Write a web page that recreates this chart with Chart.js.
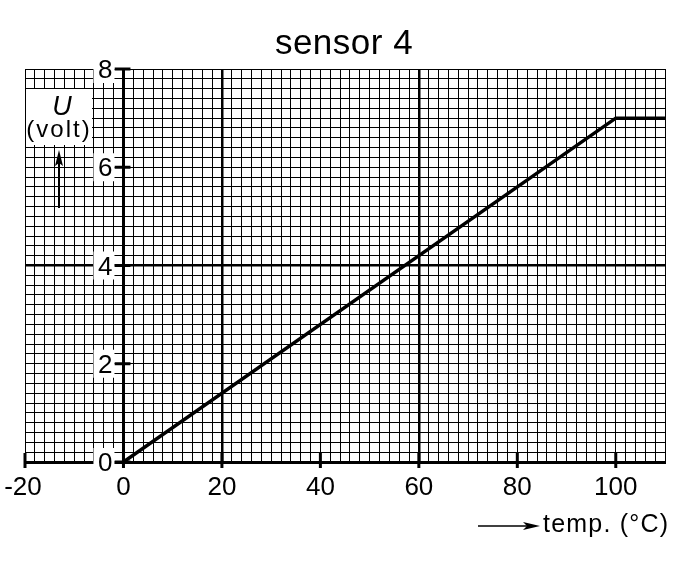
<!DOCTYPE html>
<html>
<head>
<meta charset="utf-8">
<title>sensor 4</title>
<script src="https://cdn.jsdelivr.net/npm/chart.js@4/dist/chart.umd.min.js"></script>
<style>
  html, body { margin: 0; padding: 0; background: #fff; }
  #wrap { width: 697px; height: 568px; }
</style>
</head>
<body>
<div id="wrap"><canvas id="sensorChart" width="697" height="568"></canvas></div>
<script>
// sensor response: U (volt) against temp (°C)
const tempValues = [0, 100, 110];
const voltValues = [0, 7, 7];

const xTickLabels = [-20, 0, 20, 40, 60, 80, 100];
const yTickLabels = [0, 2, 4, 6, 8];

const chartTitle = "sensor 4";
const yName = "U";
const yUnit = "(volt)";
const xName = "temp. (\u00B0C)";

const FONT = '"Liberation Sans", Arial, Helvetica, sans-serif';

function near(v, list) {
  return list.some(t => Math.abs(v - t) < 1e-6);
}

// labels, tick marks and arrows drawn on top of the grid paper
const paperLabels = {
  id: 'paperLabels',
  afterDraw(chart) {
    const { ctx, chartArea } = chart;
    const xs = chart.scales.x;
    const ys = chart.scales.y;
    const x0 = xs.getPixelForValue(0);
    const yBase = ys.getPixelForValue(0);

    ctx.save();
    ctx.fillStyle = '#000';
    ctx.strokeStyle = '#000';

    // title
    ctx.font = '35px ' + FONT;
    ctx.letterSpacing = '0.5px';
    ctx.textAlign = 'center';
    ctx.textBaseline = 'alphabetic';
    ctx.fillText(chartTitle, (chartArea.left + chartArea.right) / 2 - 1, 54);

    // x tick marks + labels
    ctx.letterSpacing = '0px';
    ctx.lineWidth = 3;
    ctx.font = '26px ' + FONT;
    xTickLabels.forEach(v => {
      const px = xs.getPixelForValue(v);
      ctx.beginPath();
      ctx.moveTo(px, yBase - 9);
      ctx.lineTo(px, yBase + 6);
      ctx.stroke();
      ctx.fillText(String(v), v < 0 ? px - 2 : px, yBase + 33);
    });

    // y tick marks + labels on white boxes
    ctx.textAlign = 'right';
    yTickLabels.forEach(v => {
      const py = ys.getPixelForValue(v);
      ctx.beginPath();
      ctx.moveTo(x0 - 9, py);
      ctx.lineTo(x0 + 7, py);
      ctx.stroke();
      ctx.fillStyle = '#fff';
      ctx.fillRect(x0 - 30, py - 14, 21, 28);
      ctx.fillStyle = '#000';
      ctx.fillText(String(v), x0 - 11, py + 9);
    });

    // y name box
    ctx.fillStyle = '#fff';
    ctx.fillRect(chartArea.left + 1, 89, 66, 56);
    ctx.fillStyle = '#000';
    ctx.textAlign = 'center';
    ctx.font = 'italic 27px ' + FONT;
    ctx.fillText(yName, 62, 115);
    ctx.font = '24px ' + FONT;
    ctx.letterSpacing = '2px';
    ctx.fillText(yUnit, 59, 137);

    // up arrow
    ctx.lineWidth = 2;
    ctx.beginPath();
    ctx.moveTo(59, 208);
    ctx.lineTo(59, 160);
    ctx.stroke();
    ctx.beginPath();
    ctx.moveTo(59, 150);
    ctx.lineTo(55, 166);
    ctx.lineTo(59, 163);
    ctx.lineTo(63, 166);
    ctx.closePath();
    ctx.fill();

    // x name with right arrow
    ctx.lineWidth = 1.5;
    ctx.beginPath();
    ctx.moveTo(478, 526);
    ctx.lineTo(530, 526);
    ctx.stroke();
    ctx.beginPath();
    ctx.moveTo(540, 526);
    ctx.lineTo(523, 522);
    ctx.lineTo(527, 526);
    ctx.lineTo(523, 530);
    ctx.closePath();
    ctx.fill();
    ctx.textAlign = 'left';
    ctx.font = '25px ' + FONT;
    ctx.letterSpacing = '1.2px';
    ctx.fillText(xName, 543, 532);

    ctx.letterSpacing = '0px';
    ctx.restore();
  }
};

const chart = new Chart(document.getElementById('sensorChart'), {
  type: 'scatter',
  data: {
    datasets: [{
      label: 'U',
      data: tempValues.map((t, i) => ({ x: t, y: voltValues[i] })),
      showLine: true,
      borderColor: '#000',
      borderWidth: 3.5,
      pointRadius: 0,
      fill: false,
      tension: 0
    }]
  },
  options: {
    responsive: false,
    animation: false,
    devicePixelRatio: 1,
    layout: { padding: { left: 25, right: 32, top: 69, bottom: 106 } },
    plugins: {
      legend: { display: false },
      title: { display: false },
      tooltip: { enabled: false }
    },
    scales: {
      x: {
        type: 'linear',
        min: -20,
        max: 110,
        ticks: { display: false, stepSize: 2, maxTicksLimit: 200, autoSkip: false },
        grid: {
          drawTicks: false,
          color: '#000',
          lineWidth: c => near(c.tick.value, [0]) ? 3 : (near(c.tick.value, [20, 60]) ? 2.5 : 1)
        },
        border: { display: true, color: '#000', width: 3 }
      },
      y: {
        type: 'linear',
        min: 0,
        max: 8,
        ticks: { display: false, stepSize: 0.2, maxTicksLimit: 200, autoSkip: false },
        grid: {
          drawTicks: false,
          color: '#000',
          lineWidth: c => near(c.tick.value, [0]) ? 3 : (near(c.tick.value, [4]) ? 2.5 : 1)
        },
        border: { display: false }
      }
    }
  },
  plugins: [paperLabels]
});
</script>
</body>
</html>
